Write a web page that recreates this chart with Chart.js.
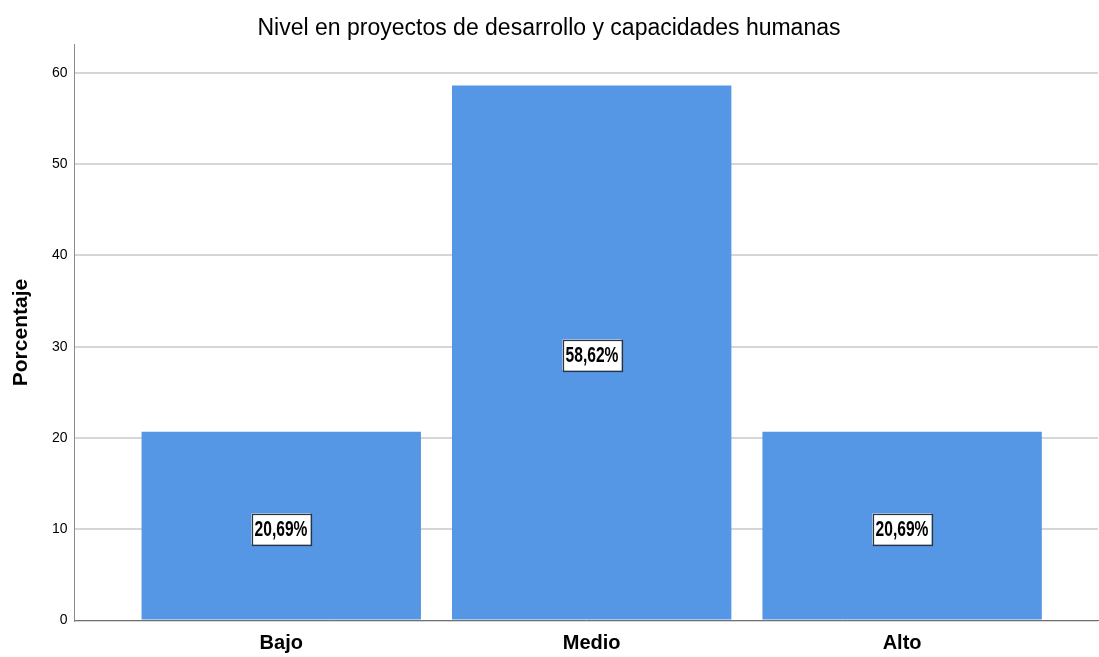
<!DOCTYPE html>
<html>
<head>
<meta charset="utf-8">
<script src="https://cdn.jsdelivr.net/npm/chart.js@4/dist/chart.umd.min.js"></script>
<style>
  html, body { margin: 0; padding: 0; background: #fff; }
  canvas { display: block; }
</style>
</head>
<body>
<canvas id="nivelChart" width="1099" height="657"></canvas>
<script>
const categories = ['Bajo', 'Medio', 'Alto'];
const percentages = [20.69, 58.62, 20.69];
const valueLabels = ['20,69%', '58,62%', '20,69%'];
const yTicks = [0, 10, 20, 30, 40, 50, 60];

// white boxes with the percentage in the middle of each bar
// (no narrow font installed, so squeeze the bold sans horizontally)
const barLabels = {
    id: 'barLabels',
    afterDatasetsDraw(chart) {
        const ctx = chart.ctx;
        const meta = chart.getDatasetMeta(0);
        const squeeze = 0.78;
        ctx.save();
        ctx.font = 'bold 20px "Liberation Sans", Arial, sans-serif';
        ctx.textAlign = 'center';
        ctx.textBaseline = 'middle';
        meta.data.forEach(function(bar, i) {
            const text = valueLabels[i];
            const cx = Math.round(bar.x);
            const cy = Math.round((bar.y + bar.base) / 2) + 3;
            const w = Math.round(ctx.measureText(text).width * squeeze + 6);
            const h = 31;
            ctx.fillStyle = '#ffffff';
            ctx.fillRect(cx - w / 2, cy - h / 2, w, h);
            ctx.strokeStyle = '#333333';
            ctx.lineWidth = 1.2;
            ctx.strokeRect(Math.round(cx - w / 2) + 0.5, Math.round(cy - h / 2) + 0.5, w, h);
            ctx.save();
            ctx.translate(cx, cy + 1);
            ctx.scale(squeeze, 1.14);
            ctx.fillStyle = '#000000';
            ctx.fillText(text, 0, 0);
            ctx.restore();
        });
        ctx.restore();
    }
};

const ctx = document.getElementById('nivelChart').getContext('2d');
new Chart(ctx, {
    type: 'bar',
    data: {
        datasets: [{
            data: categories.map(function(c, i) { return { x: i, y: percentages[i] }; }),
            backgroundColor: '#5596e5',
            borderWidth: 0,
            barPercentage: 0.9,
            categoryPercentage: 1
        }]
    },
    options: {
        responsive: false,
        animation: false,
        layout: { padding: { left: 0, right: 1, top: 0, bottom: 0 } },
        plugins: {
            legend: { display: false },
            tooltip: { enabled: false },
            title: {
                display: true,
                text: 'Nivel en proyectos de desarrollo y capacidades humanas',
                color: '#000',
                font: { family: '"Liberation Sans", Arial, sans-serif', size: 23, weight: 'normal' },
                padding: { top: 15, bottom: 2 }
            }
        },
        scales: {
            x: {
                type: 'linear',
                offset: false,
                min: -0.666,
                max: 2.631,
                afterBuildTicks: function(scale) {
                    scale.ticks = categories.map(function(c, i) { return { value: i }; });
                },
                afterFit: function(scale) { scale.height = 36.5; },
                grid: { display: false, drawTicks: false, offset: false },
                border: { display: true, color: '#707070', width: 1 },
                ticks: {
                    padding: 11,
                    color: '#000',
                    font: { family: '"Liberation Sans", Arial, sans-serif', size: 20, weight: 'bold' },
                    callback: function(value) { return categories[value]; }
                }
            },
            y: {
                min: 0,
                max: 63.1,
                afterBuildTicks: function(scale) {
                    scale.ticks = yTicks.map(function(v) { return { value: v }; });
                },
                afterFit: function(scale) { scale.width = 74.5; },
                grid: { color: '#d6d6d6', lineWidth: 2, drawTicks: false },
                border: { display: true, color: '#8a8a8a', width: 1 },
                ticks: {
                    padding: 7,
                    color: '#000',
                    font: { family: '"Liberation Sans", Arial, sans-serif', size: 14 }
                },
                title: {
                    display: true,
                    text: 'Porcentaje',
                    color: '#000',
                    font: { family: '"Liberation Sans", Arial, sans-serif', size: 21, weight: 'bold' },
                    padding: { top: 9, bottom: 0 }
                }
            }
        }
    },
    plugins: [barLabels]
});
</script>
</body>
</html>
